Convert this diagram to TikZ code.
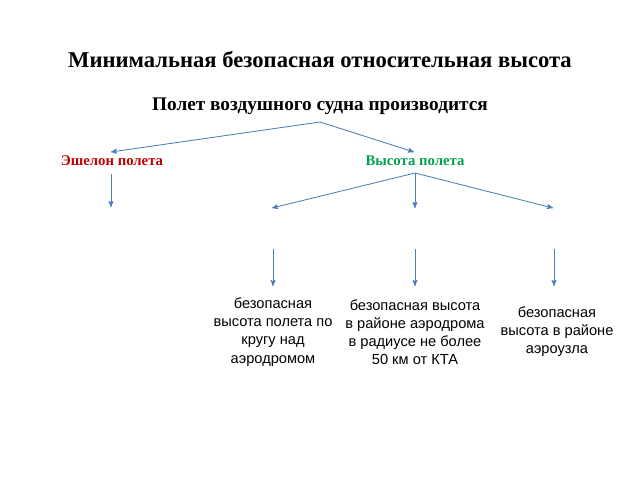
\documentclass[tikz,border=0pt]{standalone}
\usepackage{fontspec}
\setmainfont{Liberation Serif}
\newfontfamily\arialfont{Liberation Sans}
\usetikzlibrary{arrows}

\definecolor{arrowblue}{RGB}{74,126,187}
\definecolor{echred}{RGB}{192,0,0}
\definecolor{altgreen}{RGB}{0,160,80}

\begin{document}
\begin{tikzpicture}[->,>=stealth',x=0.025cm,y=-0.025cm,
        line width=0.6pt,draw=arrowblue,
        head/.style={font=\bfseries\fontsize{16.1}{19}\selectfont},
        branch/.style={font=\bfseries\fontsize{10.5}{12}\selectfont},
        leaf/.style={font=\arialfont\fontsize{10.4}{12.9}\selectfont,align=center}]
  \useasboundingbox (0,0) rectangle (640,480);

  \node[head] (title) at (320,60) {Минимальная безопасная относительная высота};
  \node[head,font=\bfseries\fontsize{13.7}{16}\selectfont] (flight) at (320,106) {Полет воздушного судна производится};

  \node[branch,text=echred] (echelon) at (112,161) {Эшелон полета};
  \node[branch,text=altgreen] (height) at (415,161) {Высота полета};

  % forks and arrow ends
  \coordinate (fork) at (320,122);
  \coordinate (etop) at (111,152);
  \coordinate (htop) at (414,152);
  \coordinate (hfork) at (415,173);
  \coordinate (efoot) at (111,174);
  \coordinate (e1) at (111,207);
  \coordinate (h1) at (272,208);
  \coordinate (h2) at (415,208);
  \coordinate (h3) at (553,208);
  \coordinate (v1) at (273,249);
  \coordinate (v2) at (415,249);
  \coordinate (v3) at (554,249);
  \coordinate (w1) at (273,286);
  \coordinate (w2) at (415,286);
  \coordinate (w3) at (554,286);

  \node[leaf] (circle) at (273,332) {безопасная\\высота полета по\\кругу над\\аэродромом};
  \node[leaf] (aerodrome) at (415,332) {безопасная высота\\в районе аэродрома\\в радиусе не более\\50 км от КТА};
  \node[leaf] (hub) at (557,332) {безопасная\\высота в районе\\аэроузла};

  \path (fork) edge (etop)
        (fork) edge (htop)
        (efoot) edge (e1)
        (hfork) edge (h1)
        (hfork) edge (h2)
        (hfork) edge (h3);

  \path (v1) edge (w1)
        (v2) edge (w2)
        (v3) edge (w3);

\end{tikzpicture}
\end{document}
